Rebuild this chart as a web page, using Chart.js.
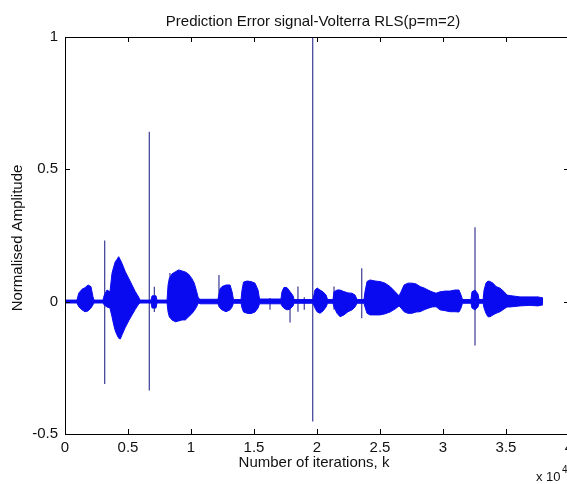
<!DOCTYPE html>
<html><head><meta charset="utf-8">
<script src="https://cdn.jsdelivr.net/npm/chart.js@4.4.0/dist/chart.umd.min.js"></script>
<style>html,body{margin:0;padding:0;overflow:hidden;background:#fff;width:567px;height:484px}canvas{display:block}</style>
</head><body>
<canvas id="c" width="580" height="484"></canvas>
<script>
// ---- data (x in iterations k) ----
const envK = [0,950,1090,1350,1590,1830,2060,2220,2300,3020,3100,3330,3570,3730,3870,3990,4130,4260,4390,4520,4790,5060,5320,5580,5850,5950,6830,6910,7220,7300,8100,8180,8280,8490,8760,9020,9290,9550,9790,10060,10260,10450,10580,10720,12140,12300,12460,12780,13100,13260,13370,13970,14050,14170,14450,14760,15080,15320,15440,17140,17220,17380,17620,17860,18100,18180,19680,19840,20000,20240,20480,20720,20840,21270,21350,21590,21830,22140,22460,22780,23020,23180,23730,23810,23970,24210,24610,25000,25400,25800,26190,26510,26670,26910,27220,27540,27860,28180,28490,28810,29130,29450,29760,30160,30560,30950,31270,31430,31550,32220,32300,32540,32780,32860,33180,33260,33410,33570,33730,33970,34210,34530,34840,35080,35320,36110,36910,37540,37940];
const envUpper = [0.006,0.006,0.032,0.047,0.053,0.063,0.057,0.019,0.006,0.006,
0.022,0.044,0.037,0.107,0.132,0.151,0.160,0.170,0.158,0.145,
0.113,0.088,0.063,0.038,0.017,0.006,0.006,0.022,0.022,0.006,
0.006,0.063,0.088,0.105,0.113,0.120,0.116,0.112,0.105,0.088,
0.070,0.038,0.014,0.009,0.009,0.048,0.057,0.063,0.063,0.037,
0.008,0.008,0.044,0.074,0.078,0.076,0.070,0.044,0.010,0.010,
0.037,0.054,0.053,0.038,0.022,0.008,0.008,0.044,0.052,0.044,
0.037,0.025,0.008,0.008,0.037,0.044,0.044,0.038,0.033,0.032,
0.025,0.008,0.008,0.037,0.076,0.082,0.078,0.076,0.070,0.057,
0.038,0.022,0.037,0.063,0.070,0.070,0.067,0.057,0.052,0.044,
0.037,0.032,0.037,0.040,0.040,0.044,0.044,0.025,0.008,0.008,
0.037,0.044,0.029,0.008,0.008,0.044,0.070,0.078,0.076,0.070,
0.057,0.051,0.038,0.025,0.023,0.018,0.018,0.018,0.014];
const envLower = [-0.005,-0.005,-0.019,-0.031,-0.038,-0.035,-0.024,-0.012,-0.005,-0.005,
-0.012,-0.020,-0.024,-0.057,-0.088,-0.110,-0.126,-0.138,-0.141,-0.126,
-0.097,-0.072,-0.050,-0.029,-0.009,-0.005,-0.005,-0.024,-0.024,-0.005,
-0.005,-0.039,-0.057,-0.069,-0.076,-0.073,-0.069,-0.069,-0.058,-0.046,
-0.034,-0.019,-0.005,-0.008,-0.008,-0.024,-0.031,-0.038,-0.031,-0.020,
-0.006,-0.006,-0.024,-0.039,-0.044,-0.045,-0.039,-0.024,-0.008,-0.008,
-0.016,-0.025,-0.031,-0.028,-0.016,-0.006,-0.006,-0.024,-0.038,-0.044,
-0.035,-0.020,-0.006,-0.006,-0.020,-0.044,-0.057,-0.050,-0.038,-0.031,
-0.020,-0.006,-0.006,-0.020,-0.044,-0.050,-0.050,-0.050,-0.046,-0.039,
-0.028,-0.016,-0.024,-0.038,-0.044,-0.044,-0.039,-0.038,-0.031,-0.025,
-0.020,-0.019,-0.031,-0.034,-0.038,-0.038,-0.039,-0.024,-0.006,-0.006,
-0.024,-0.031,-0.020,-0.006,-0.006,-0.024,-0.044,-0.057,-0.057,-0.050,
-0.044,-0.038,-0.028,-0.020,-0.020,-0.016,-0.014,-0.016,-0.012];
const spikeK = [3150,6690,7090,8330,12220,16270,17860,18490,18990,19660,21350,23550,32540];
const spikeTop = [0.231,0.642,0.056,0.108,0.101,0.014,0.018,0.057,0.017,1.0,0.057,0.126,0.281];
const spikeBottom = [-0.311,-0.336,-0.039,-0.060,-0.019,-0.031,-0.079,-0.038,-0.031,-0.453,-0.031,-0.063,-0.166];
const xTickValues = [0,5000,10000,15000,20000,25000,30000,35000,40000];
const xTickLabels = ['0','0.5','1','1.5','2','2.5','3','3.5','4'];
const yTickValues = [-0.5,0,0.5,1];
const yTickLabels = ['-0.5','0','0.5','1'];
const titleText = 'Prediction Error signal-Volterra RLS(p=m=2)';
const xAxisTitle = 'Number of iterations, k';
const yAxisTitle = 'Normalised Amplitude';
const xMultiplier = 'x 10';
const xMultiplierExp = '4';

const FONT = "'Liberation Sans', Arial, Helvetica, sans-serif";
const SIG = '#0a0af0';
const SPIKE = '#3c3c96';
const TEXT = '#111';

const upperPts = envK.map((k, i) => ({x: k, y: envUpper[i]}));
const lowerPts = envK.map((k, i) => ({x: k, y: envLower[i]}));
const spikePts = [];
spikeK.forEach((k, i) => {
  spikePts.push({x: k, y: spikeTop[i]}, {x: k, y: spikeBottom[i]}, {x: k, y: null});
});

const frame = {
  id: 'frame',
  afterDatasetsDraw(chart) {
    const {ctx, chartArea: a, scales: {x, y}} = chart;
    ctx.save();
    ctx.strokeStyle = '#000';
    ctx.lineWidth = 1;
    ctx.beginPath();
    ctx.rect(Math.round(a.left) + 0.5, Math.round(a.top) + 0.5, Math.round(a.right - a.left), Math.round(a.bottom - a.top));
    const TL = 5;
    xTickValues.forEach(v => {
      const px = Math.round(x.getPixelForValue(v)) + 0.5;
      ctx.moveTo(px, a.bottom); ctx.lineTo(px, a.bottom - TL);
      ctx.moveTo(px, a.top); ctx.lineTo(px, a.top + TL);
    });
    yTickValues.forEach(v => {
      const py = Math.round(y.getPixelForValue(v)) + 0.5;
      ctx.moveTo(a.left, py); ctx.lineTo(a.left + TL, py);
      ctx.moveTo(a.right, py); ctx.lineTo(a.right - TL, py);
    });
    ctx.stroke();
    ctx.restore();
  },
  afterDraw(chart) {
    const {ctx} = chart;
    ctx.save();
    ctx.fillStyle = TEXT;
    ctx.textAlign = 'center';
    ctx.textBaseline = 'middle';
    ctx.font = '15px ' + FONT;
    ctx.fillText(titleText, 313, 22);
    ctx.fillText(xAxisTitle, 314, 463);
    ctx.save();
    ctx.translate(18, 238);
    ctx.rotate(-Math.PI / 2);
    ctx.fillText(yAxisTitle, 0, 0);
    ctx.restore();
    ctx.textAlign = 'left';
    ctx.font = '13px ' + FONT;
    ctx.fillText(xMultiplier, 536, 477);
    ctx.font = '10px ' + FONT;
    ctx.fillText(xMultiplierExp, 562, 470);
    ctx.restore();
  }
};

new Chart(document.getElementById('c'), {
  type: 'line',
  data: {
    datasets: [
      {data: spikePts, borderColor: SPIKE, borderWidth: 1.2, pointRadius: 0, fill: false, spanGaps: false, order: 3},
      {data: upperPts, borderColor: SIG, backgroundColor: SIG, borderWidth: 1, pointRadius: 0, fill: '+1', tension: 0, order: 2},
      {data: lowerPts, borderColor: SIG, borderWidth: 1, pointRadius: 0, fill: false, tension: 0, order: 2}
    ]
  },
  options: {
    responsive: false,
    animation: false,
    devicePixelRatio: 1,
    layout: {padding: {left: 0, top: 37, right: 11, bottom: 0}},
    plugins: {legend: {display: false}, tooltip: {enabled: false}, title: {display: false}},
    scales: {
      x: {
        type: 'linear', min: 0, max: 40000,
        afterBuildTicks: s => { s.ticks = xTickValues.map(v => ({value: v})); },
        afterFit: s => { s.height = 50; },
        grid: {display: false, drawTicks: false},
        border: {display: false},
        ticks: {
          autoSkip: false, maxRotation: 0, padding: 5, color: TEXT,
          font: {family: FONT, size: 15},
          callback: (v) => xTickLabels[xTickValues.indexOf(v)]
        }
      },
      y: {
        type: 'linear', min: -0.5, max: 1,
        afterBuildTicks: s => { s.ticks = yTickValues.map(v => ({value: v})); },
        afterFit: s => { s.width = 65; },
        grid: {display: false, drawTicks: false},
        border: {display: false},
        ticks: {
          autoSkip: false, padding: 7, color: TEXT,
          font: {family: FONT, size: 15},
          callback: (v) => yTickLabels[yTickValues.indexOf(v)]
        }
      }
    }
  },
  plugins: [frame]
});
</script>
</body></html>
